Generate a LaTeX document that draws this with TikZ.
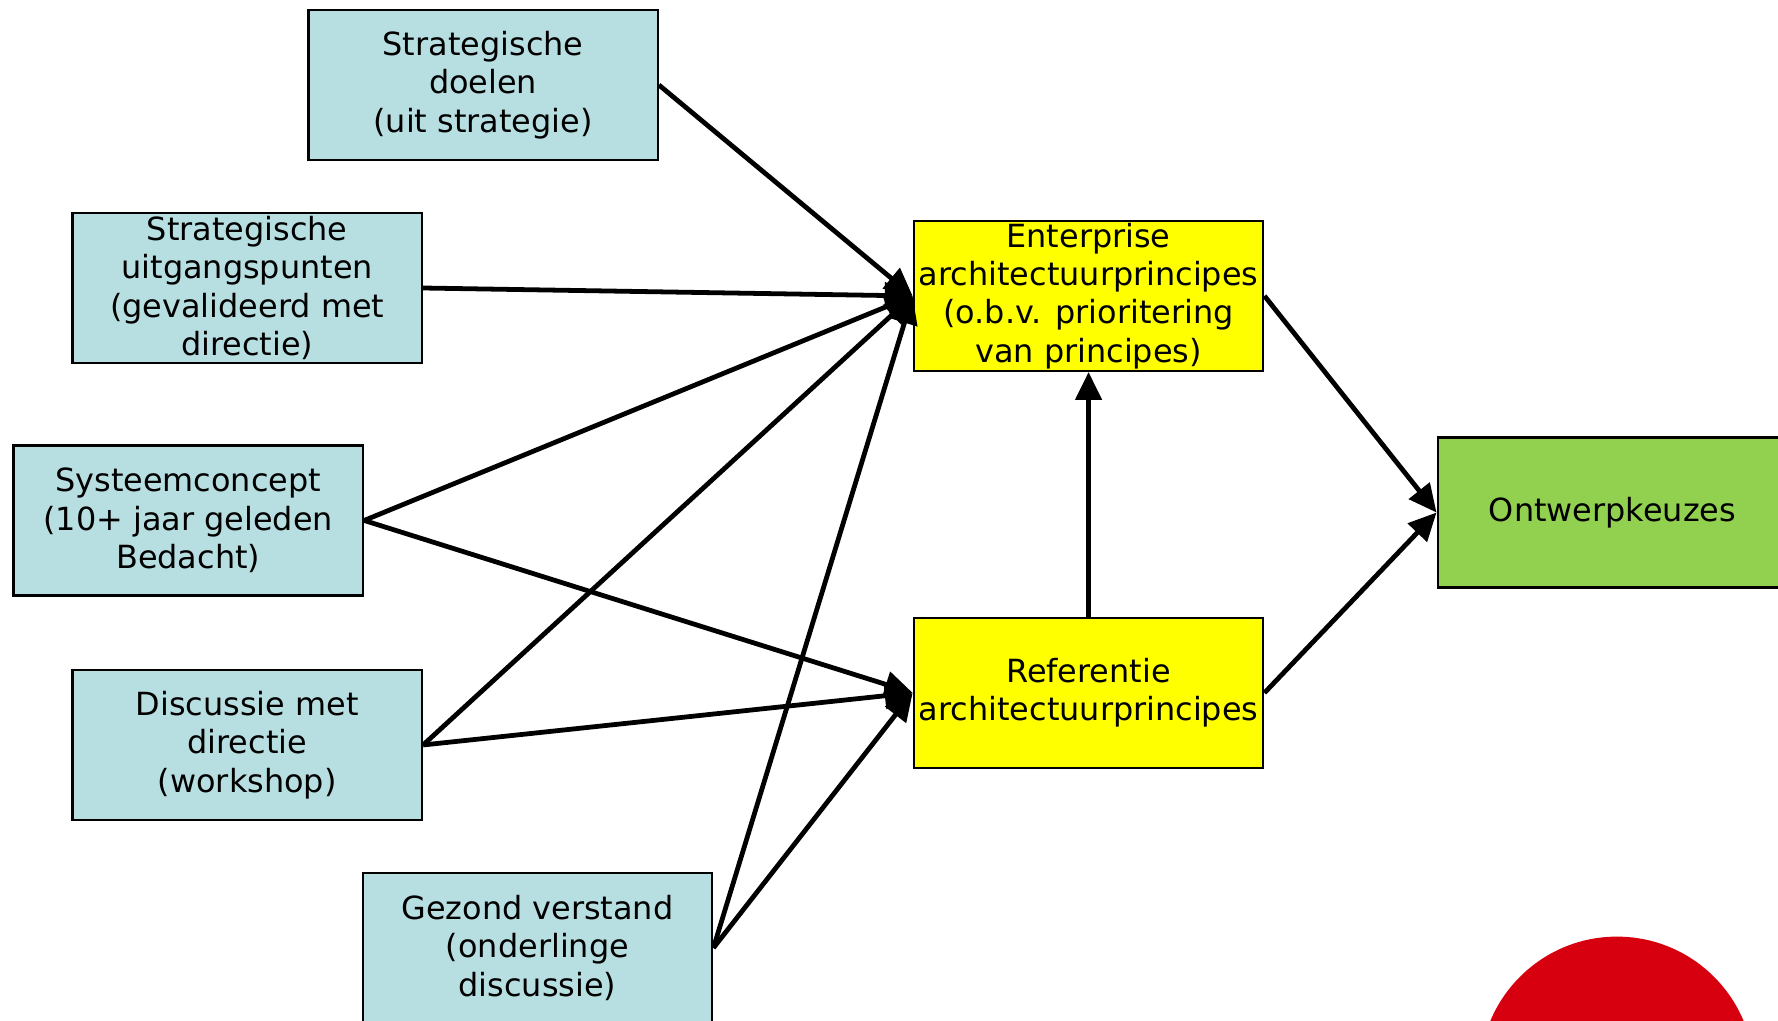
\documentclass[tikz,border=0pt]{standalone}
\usepackage{fontspec}
\setmainfont{DejaVu Sans}
\usetikzlibrary{arrows.meta}
\definecolor{lichtblauw}{RGB}{183,222,225}
\definecolor{geel}{RGB}{255,255,0}
\definecolor{groen}{RGB}{146,208,80}
\definecolor{rood}{RGB}{215,0,15}
\tikzset{
  blok/.style={draw, line width=0.6pt, minimum width=3.08cm, minimum height=1.32cm,
    inner sep=0pt, align=center, font=\fontsize{8}{9.6}\selectfont},
  bron/.style={blok, fill=lichtblauw},
  principe/.style={blok, fill=geel},
  keuze/.style={blok, fill=groen},
  pijl/.style={line width=1.2pt, -{Triangle[length=7pt,width=6.5pt]}}
}
\begin{document}
\begin{tikzpicture}[x=0.01cm, y=0.01cm]
\useasboundingbox (0,0) rectangle (1568,900);
\clip (0,0) rectangle (1568,900);
\fill[white] (0,0) rectangle (1568,900);
\node[bron] (doelen) at (426,825){Strategische\\doelen\\(uit strategie)};
\node[bron] (uitgang) at (218,646){Strategische\\uitgangspunten\\(gevalideerd met\\directie)};
\node[bron] (systeem) at (166,441){Systeemconcept\\(10+ jaar geleden\\Bedacht)};
\node[bron] (discussie) at (218,243){Discussie met\\directie\\(workshop)};
\node[bron] (verstand) at (474,64){Gezond verstand\\(onderlinge\\discussie)};
\node[principe] (enterprise) at (960,639){Enterprise\\architectuurprincipes\\(o.b.v. prioritering\\van principes)};
\node[principe] (referentie) at (960,289){Referentie\\architectuurprincipes};
\node[keuze] (ontwerp) at (1422,448){Ontwerpkeuzes};
\fill[rood] (1426,-47) circle (121);
\draw[pijl] (doelen.east) -- (enterprise.west);
\draw[pijl] (uitgang.east) -- (enterprise.west);
\draw[pijl] (systeem.east) -- (enterprise.west);
\draw[pijl] (systeem.east) -- (referentie.west);
\draw[pijl] (discussie.east) -- (enterprise.west);
\draw[pijl] (discussie.east) -- (referentie.west);
\draw[pijl] (verstand.east) -- (enterprise.west);
\draw[pijl] (verstand.east) -- (referentie.west);
\draw[pijl] (referentie.north) -- (enterprise.south);
\draw[pijl] (enterprise.east) -- (ontwerp.west);
\draw[pijl] (referentie.east) -- (ontwerp.west);
\end{tikzpicture}
\end{document}
